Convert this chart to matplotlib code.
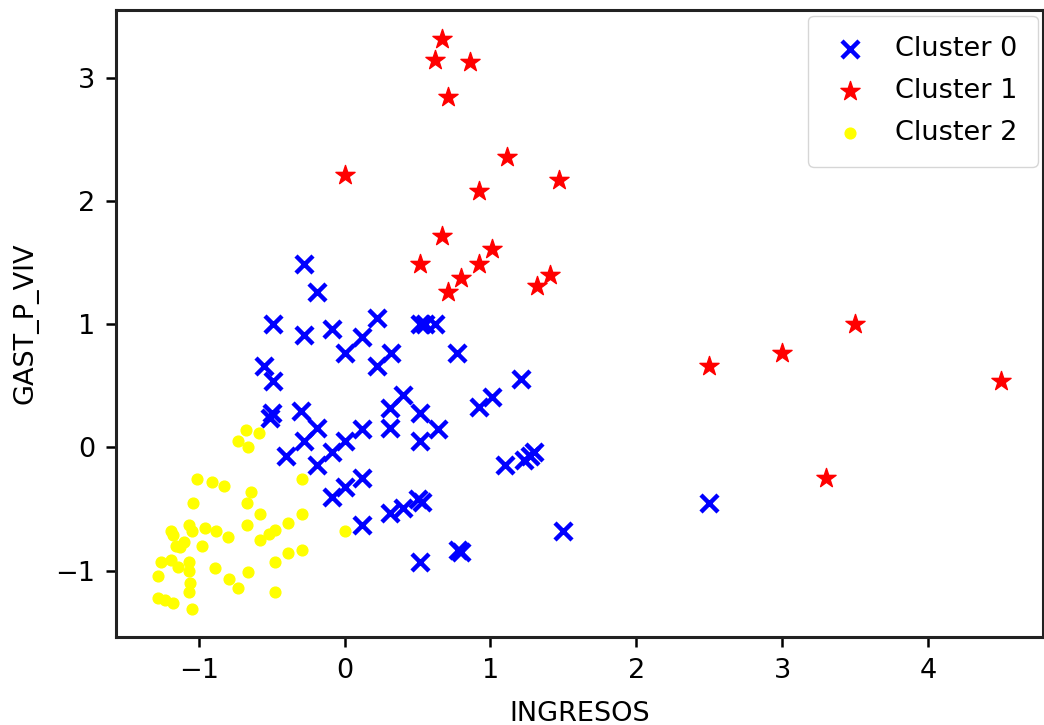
import numpy as np
import matplotlib
matplotlib.use("Agg")
import matplotlib.pyplot as plt

# cluster 0 (blue x)
c0_x = [-0.28, -0.19, -0.49, -0.28, -0.09, 0.22, 0.12, 0.0, 0.32, 0.22,
        0.52, 0.55, 0.62, 0.77, -0.55, -0.49, 0.40, 0.31, 0.52, -0.50,
        -0.51, -0.30, -0.19, -0.28, -0.40, -0.19, -0.09, 0.0, 0.12, 0.31,
        0.64, 0.52, 0.12, 0.0, -0.09, 0.31, 0.40, 0.50, 0.53, 0.12,
        0.52, 0.80, 0.78, 1.50, 1.21, 1.01, 0.92, 1.10, 1.23, 1.30,
        1.27, 2.50]
c0_y = [1.49, 1.26, 1.0, 0.91, 0.96, 1.05, 0.90, 0.77, 0.77, 0.66,
        1.0, 1.0, 1.0, 0.77, 0.66, 0.54, 0.43, 0.32, 0.28, 0.28,
        0.24, 0.30, 0.16, 0.05, -0.07, -0.14, -0.04, 0.05, 0.15, 0.16,
        0.15, 0.05, -0.25, -0.32, -0.40, -0.53, -0.49, -0.42, -0.44, -0.63,
        -0.93, -0.85, -0.83, -0.68, 0.56, 0.41, 0.33, -0.14, -0.10, -0.04,
        -0.07, -0.45]

# cluster 1 (red stars)
c1_x = [0.67, 0.62, 0.86, 0.71, 0.0, 1.11, 0.92, 1.47, 0.67, 1.01,
        0.52, 0.92, 0.80, 0.71, 1.41, 1.32, 2.5, 3.0, 3.5, 4.5, 3.3]
c1_y = [3.32, 3.15, 3.13, 2.85, 2.21, 2.36, 2.08, 2.17, 1.72, 1.61,
        1.49, 1.49, 1.38, 1.26, 1.40, 1.31, 0.66, 0.77, 1.0, 0.54, -0.25]

# cluster 2 (yellow dots)
c2_x = [-0.68, -0.59, -0.73, -0.66, -1.01, -0.91, -0.83, -0.29, -0.64, -0.67,
        -1.04, -0.58, -0.29, -0.39, -0.67, 0.0, -0.48, -0.52, -0.58, -0.80,
        -0.88, -0.96, -1.07, -1.05, -1.19, -1.18, -1.10, -1.16, -1.13, -0.98,
        -0.29, -0.39, -0.48, -1.26, -1.19, -1.07, -1.14, -0.89, -1.07, -1.28,
        -0.66, -0.79, -1.06, -0.73, -1.07, -0.48, -1.28, -1.23, -1.18, -1.05]
c2_y = [0.14, 0.12, 0.05, 0.0, -0.26, -0.28, -0.31, -0.26, -0.36, -0.45,
        -0.45, -0.54, -0.54, -0.61, -0.63, -0.68, -0.67, -0.70, -0.75, -0.73,
        -0.68, -0.65, -0.63, -0.68, -0.68, -0.71, -0.77, -0.80, -0.81, -0.80,
        -0.83, -0.86, -0.93, -0.93, -0.91, -0.93, -0.97, -0.98, -1.0, -1.04,
        -1.01, -1.07, -1.10, -1.14, -1.17, -1.17, -1.22, -1.24, -1.26, -1.31]

plt.rcParams['font.family'] = 'DejaVu Sans'
plt.rcParams['font.size'] = 19.5

fig = plt.figure(figsize=(10.44, 7.25), dpi=100)
ax = fig.add_axes([0.111, 0.121, 0.888, 0.865])

ax.scatter(c0_x, c0_y, c='blue', marker='x', s=150, linewidths=3.2, label='Cluster 0')
ax.scatter(c1_x, c1_y, c='red', marker='*', s=210, label='Cluster 1')
ax.scatter(c2_x, c2_y, c='yellow', marker='o', s=60, label='Cluster 2')

ax.set_xlabel('INGRESOS', labelpad=12)
ax.set_ylabel('GAST_P_VIV', labelpad=12)
ax.set_xticks([-1, 0, 1, 2, 3, 4])
ax.set_yticks([-1, 0, 1, 2, 3])
ax.tick_params(length=7, width=1.8, pad=8)
for sp in ax.spines.values():
    sp.set_linewidth(2.2)
    sp.set_color('#222222')

ax.legend(loc='upper right', borderpad=0.75, handletextpad=0.85, handlelength=1.6,
          labelspacing=0.6, borderaxespad=0.2, framealpha=0.8)

fig.savefig('out.png', dpi=100)
